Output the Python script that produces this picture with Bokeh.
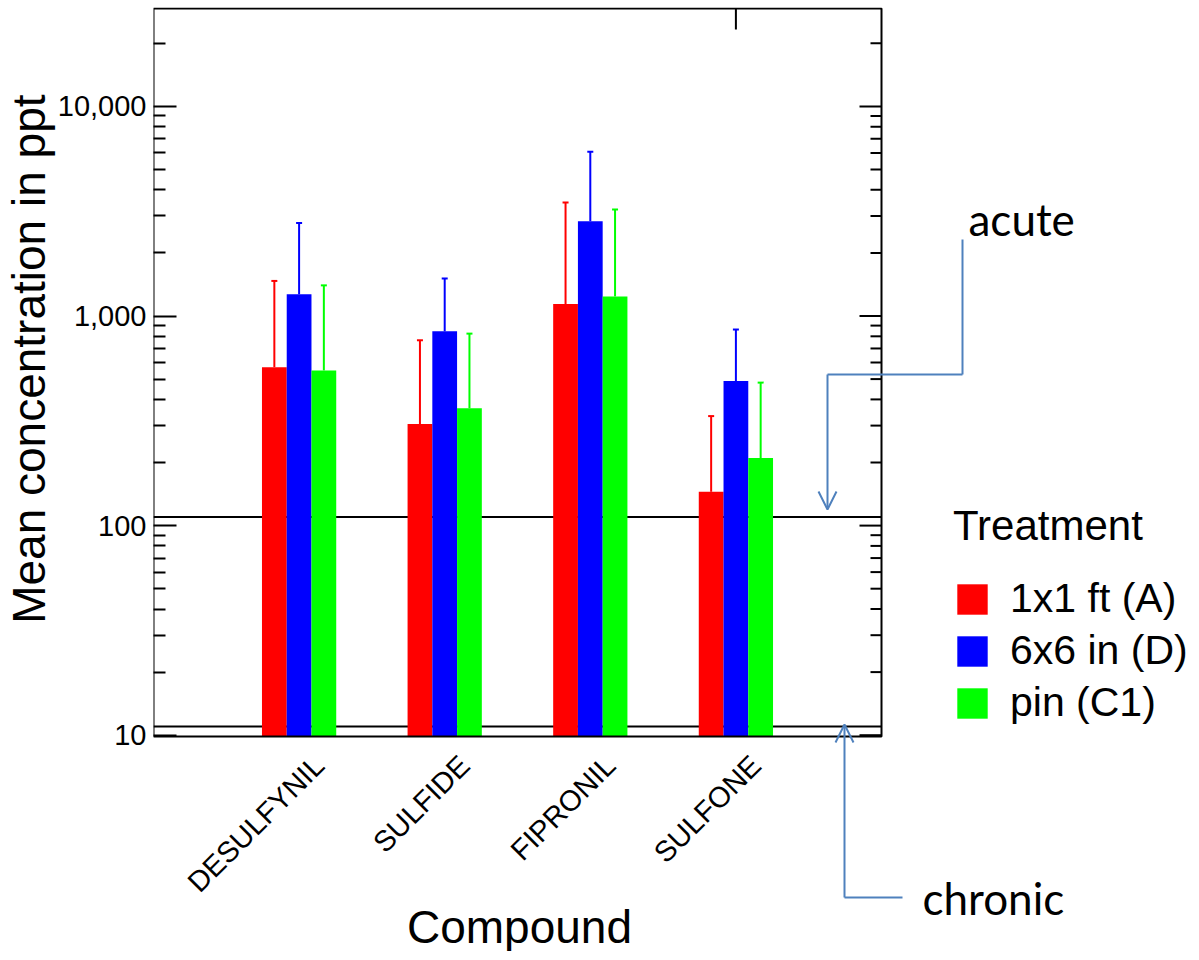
import math
from bokeh.plotting import figure
from bokeh.models import (ColumnDataSource, Range1d, FixedTicker, NumeralTickFormatter,
                          Whisker, TeeHead, Legend, LegendItem, Label, Arrow,
                          OpenHead, BoxAnnotation, Title)
from bokeh.core.properties import value
from bokeh.embed import file_html
from bokeh.resources import INLINE

# ---------------- data ----------------
categories = ["DESULFYNIL", "SULFIDE", "FIPRONIL", "SULFONE"]
treatments = ["1x1 ft (A)", "6x6 in (D)", "pin (C1)"]
colors = ["#FF0000", "#0000FF", "#00FF00"]

mean_A = [570, 305, 1140, 145]
mean_D = [1270, 845, 2830, 489]
mean_C1 = [550, 363, 1240, 210]

upper_A = [1470, 766, 3480, 333]
upper_D = [2780, 1510, 6070, 862]
upper_C1 = [1400, 824, 3220, 481]

benchmark_names = ["acute", "chronic"]
benchmark_values = [110, 11]

y_ticks = [10, 100, 1000, 10000]
y_minor_ticks = [m * 10 ** e for e in range(1, 5) for m in range(2, 10)]

# ---------------- geometry (picture pixels -> data) ----------------
FIG_LEFT, FIG_TOP = 8, 1                 # where the figure lands in the picture
X0_PAGE, PX_PER_X = 155, 145.6          # x=0 at picture x 155, one slot = 145.6 px
Y10_PAGE, PX_PER_DEC = 735.7, 209.6     # y=10 at picture y 735.7, one decade = 209.6 px


def dx(px):
    return (px - X0_PAGE) / PX_PER_X


def dy(py):
    return 10 ** (1 + (Y10_PAGE - py) / PX_PER_DEC)


FRAME_LEFT_PAGE, FRAME_TOP_PAGE = 155, 8
FRAME_RIGHT_PAGE, FRAME_BOTTOM_PAGE = 1191, 952
X_START, X_END = dx(FRAME_LEFT_PAGE), dx(FRAME_RIGHT_PAGE)
Y_START, Y_END = dy(FRAME_BOTTOM_PAGE), dy(FRAME_TOP_PAGE)
BOX_LEFT, BOX_RIGHT = 0, 5
BOX_BOTTOM, BOX_TOP = dy(737), dy(9)
BAR_W = 0.17
FONT = "Liberation Sans"
ARROW_COLOR = "#4F81BD"
TXT_SHIFT = 15   # label baseline correction (px)

p = figure(frame_width=FRAME_RIGHT_PAGE - FRAME_LEFT_PAGE,
           frame_height=FRAME_BOTTOM_PAGE - FRAME_TOP_PAGE,
           x_range=Range1d(X_START, X_END), y_range=Range1d(Y_START, Y_END),
           y_axis_type="log", output_backend="svg", toolbar_location=None,
           min_border_left=FRAME_LEFT_PAGE - FIG_LEFT, min_border_right=0,
           min_border_top=FRAME_TOP_PAGE - FIG_TOP, min_border_bottom=0)
p.xgrid.visible = False
p.ygrid.visible = False
p.outline_line_color = None
p.xaxis.visible = False

# benchmark lines across the plot box (drawn first, bars cover them)
p.segment(x0=[BOX_LEFT] * 2, x1=[BOX_RIGHT] * 2, y0=benchmark_values, y1=benchmark_values,
          line_color="black", line_width=2)

# bars + error bars
means = [mean_A, mean_D, mean_C1]
uppers = [upper_A, upper_D, upper_C1]
x_pos = [i + 1 for i in range(len(categories))]
legend_items = []
for k, (name, col) in enumerate(zip(treatments, colors)):
    off = (k - 1) * BAR_W
    src = ColumnDataSource(dict(x=[x + off for x in x_pos], top=means[k], upper=uppers[k]))
    r = p.vbar(x="x", top="top", bottom=BOX_BOTTOM, width=BAR_W, fill_color=col,
               line_color=None, source=src)
    w = Whisker(base="x", lower="top", upper="upper", source=src, dimension="height",
                line_color=col, line_width=2, lower_head=None,
                upper_head=TeeHead(size=6, line_color=col, line_width=2))
    p.add_layout(w)
    legend_items.append(LegendItem(label=name, renderers=[r]))

# plot box
p.add_layout(BoxAnnotation(left=BOX_LEFT, right=BOX_RIGHT, bottom=BOX_BOTTOM, top=BOX_TOP,
                           fill_color=None, line_color="black", line_alpha=1.0,
                           line_width=2))

# right-hand inward ticks of the box
maj_len, min_len = 22 / PX_PER_X, 11 / PX_PER_X
p.segment(x0=[BOX_RIGHT] * len(y_ticks), x1=[BOX_RIGHT - maj_len] * len(y_ticks),
          y0=y_ticks, y1=y_ticks, line_color="black", line_width=2)
minor_in = [t for t in y_minor_ticks if t < BOX_TOP]
p.segment(x0=[BOX_RIGHT] * len(minor_in), x1=[BOX_RIGHT - min_len] * len(minor_in),
          y0=minor_in, y1=minor_in, line_color="black", line_width=2)
# single top tick
p.segment(x0=[x_pos[-1]], x1=[x_pos[-1]], y0=[BOX_TOP], y1=[BOX_TOP / 10 ** (21 / PX_PER_DEC)],
          line_color="black", line_width=2)

# category labels under the box
LABEL_DX = 20 / PX_PER_X
p.text(x=[x + LABEL_DX for x in x_pos], y=[dy(761)] * len(x_pos), text=categories,
       angle=math.pi / 4, text_align="right", text_baseline="middle",
       text_font=value(FONT), text_font_size="29px", text_color="black")

# left axis
ya = p.yaxis[0]
ya.ticker = FixedTicker(ticks=y_ticks, minor_ticks=minor_in)
ya.formatter = NumeralTickFormatter(format="0,0")
ya.major_tick_in = 23
ya.major_tick_out = 0
ya.minor_tick_in = 12
ya.minor_tick_out = 0
ya.major_tick_line_width = 2
ya.minor_tick_line_width = 2
ya.axis_line_color = None
ya.major_label_text_font = FONT
ya.major_label_text_font_size = "29px"
ya.major_label_text_color = "black"
ya.major_label_standoff = 7

# y axis title
p.add_layout(Title(text="Mean concentration in ppt", align="right", offset=87,
                   text_font=FONT, text_font_size="46px", text_font_style="normal",
                   text_color="black", standoff=0), "left")

# x axis title
p.add_layout(Label(x=dx(521), y=dy(942 - TXT_SHIFT), text="Compound", text_font=FONT,
                   text_font_size="46px", text_color="black", text_align="center",
                   text_baseline="alphabetic"))

# legend
legend = Legend(items=legend_items, title="Treatment",
                location=(955 - FRAME_LEFT_PAGE, FRAME_BOTTOM_PAGE - 727),
                glyph_width=38, glyph_height=38, label_standoff=19, spacing=5,
                padding=0, margin=0, border_line_color=None, background_fill_alpha=0,
                label_text_font=FONT, label_text_font_size="41px", label_text_color="black",
                title_text_font=FONT, title_text_font_size="42px", title_text_color="black",
                title_text_font_style="normal", title_standoff=25)
p.add_layout(legend)

# annotations: acute
p.add_layout(Arrow(end=None, x_start=dx(964), y_start=dy(240), x_end=dx(964), y_end=dy(375),
                   line_color=ARROW_COLOR, line_width=2))
p.add_layout(Arrow(end=None, x_start=dx(964), y_start=dy(375), x_end=dx(829), y_end=dy(375),
                   line_color=ARROW_COLOR, line_width=2))
p.add_layout(Arrow(end=OpenHead(size=18, line_color=ARROW_COLOR, line_width=2),
                   x_start=dx(829), y_start=dy(375), x_end=dx(829), y_end=dy(510),
                   line_color=ARROW_COLOR, line_width=2))
p.add_layout(Label(x=dx(970), y=dy(234 - TXT_SHIFT), text=benchmark_names[0], text_font="Lato",
                   text_font_size="44px", text_color="black", text_baseline="alphabetic"))

# annotations: chronic
p.add_layout(Arrow(end=OpenHead(size=18, line_color=ARROW_COLOR, line_width=2),
                   x_start=dx(846), y_start=dy(898), x_end=dx(846), y_end=dy(725),
                   line_color=ARROW_COLOR, line_width=2))
p.add_layout(Arrow(end=None, x_start=dx(846), y_start=dy(898), x_end=dx(904), y_end=dy(898),
                   line_color=ARROW_COLOR, line_width=2))
p.add_layout(Label(x=dx(924), y=dy(913 - TXT_SHIFT), text=benchmark_names[1], text_font="Lato",
                   text_font_size="44px", text_color="black", text_baseline="alphabetic"))

open("out.html", "w").write(file_html(p, INLINE))
